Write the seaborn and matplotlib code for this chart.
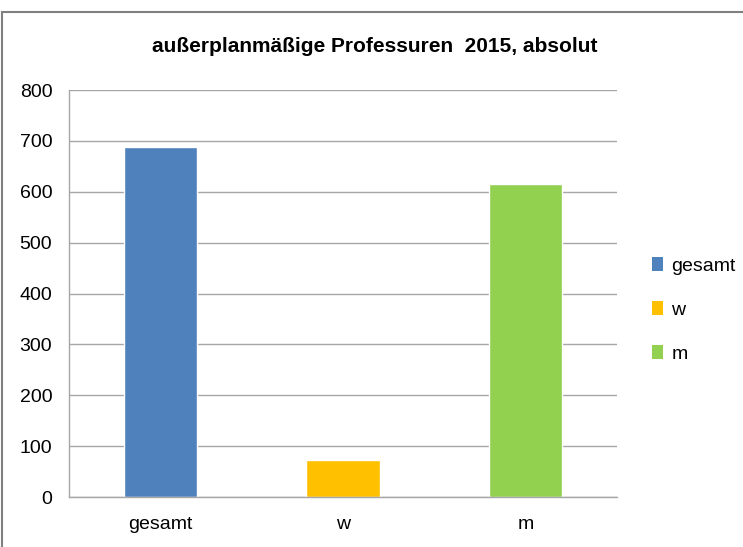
import matplotlib
matplotlib.use("Agg")
import matplotlib.pyplot as plt
import seaborn as sns
import pandas as pd
from matplotlib.patches import Rectangle, Patch

# data
categories = ["gesamt", "w", "m"]
values = [688, 73, 616]
colors = ["#4F81BD", "#FFC000", "#92D050"]

df = pd.DataFrame({"Kategorie": categories, "Anzahl": values})

sns.set_style("white")
plt.rcParams["font.family"] = ["Liberation Sans", "DejaVu Sans"]
plt.rcParams["text.color"] = "black"

fig = plt.figure(figsize=(7.43, 5.47), dpi=100)
ax = fig.add_axes([69 / 743, 1 - 497 / 547, 548 / 743, 407 / 547])

sns.barplot(data=df, x="Kategorie", y="Anzahl", hue="Kategorie",
            palette=colors, width=0.4, saturation=1, legend=False, ax=ax)

ax.set_ylim(0, 800)
ax.set_yticks(range(0, 801, 100))
ax.yaxis.grid(True, color="#A6A6A6", linewidth=1)
ax.set_axisbelow(True)
for s in ["top", "right"]:
    ax.spines[s].set_visible(False)
for s in ["left", "bottom"]:
    ax.spines[s].set_color("#A6A6A6")
    ax.spines[s].set_linewidth(1)
ax.tick_params(axis="both", length=0, labelsize=14, colors="black")
ax.tick_params(axis="y", pad=12)
ax.tick_params(axis="x", pad=14)
ax.set_xlabel("")
ax.set_ylabel("")

fig.text(375 / 743, 1 - 47 / 547,
         "außerplanmäßige Professuren  2015, absolut",
         ha="center", va="center", fontsize=15, fontweight="bold")

handles = [Patch(facecolor=c, edgecolor="none") for c in colors]
fig.legend(handles, categories, loc="center left",
           bbox_to_anchor=(644 / 743, 1 - 310 / 547), frameon=False,
           fontsize=14, handlelength=0.6, handleheight=0.7,
           labelspacing=1.35, handletextpad=0.4, borderaxespad=0)

# chart frame like the original
fig.patches.append(Rectangle((2 / 743, -0.01), 1.0, 1 - 12 / 547 + 0.01,
                             transform=fig.transFigure, fill=False,
                             edgecolor="#808080", linewidth=1.5))

fig.savefig("out.png", dpi=100)
